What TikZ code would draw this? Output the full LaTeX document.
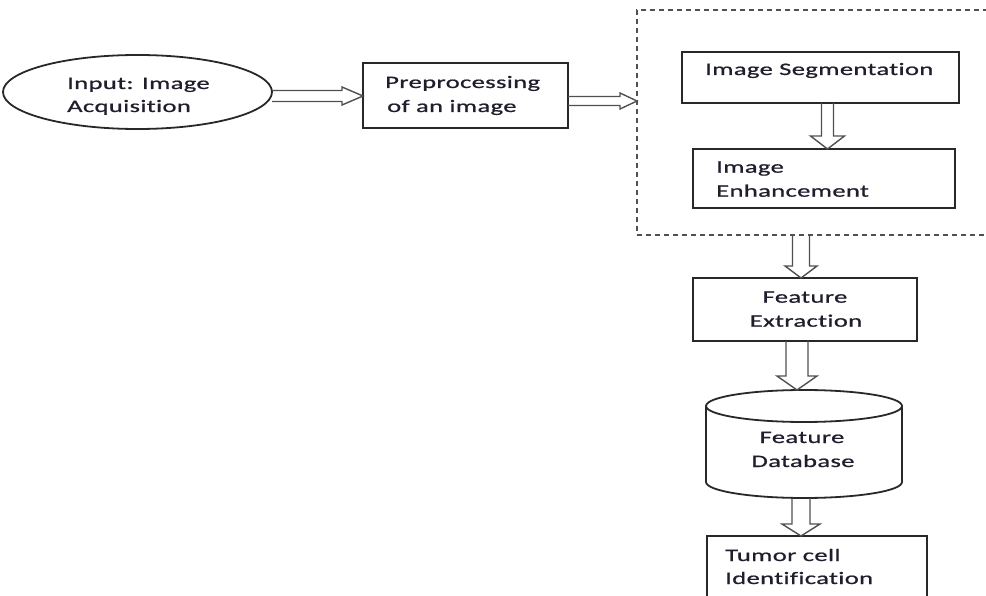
\documentclass[tikz,border=0pt]{standalone}
\usepackage{fontspec}
\setmainfont{Carlito}[FakeStretch=1.52, LetterSpace=2, FakeBold=0.8, Ligatures=NoCommon]
\usetikzlibrary{calc,shapes.geometric}
\definecolor{txt}{RGB}{30,30,45}
\definecolor{ln}{RGB}{40,40,40}
\definecolor{arrc}{RGB}{80,80,80}
\tikzset{
  box/.style={draw=ln, line width=1.8pt, rectangle, inner sep=0pt, outer sep=0pt, anchor=north west},
  lbl/.style={anchor=base west, inner sep=0pt, text=txt, font=\fontsize{17.5}{23.5}\selectfont},
  clbl/.style={lbl, anchor=base},
  arrowline/.style={draw=arrc, line width=1.4pt, line join=miter},
  dashbox/.style={draw=arrc, line width=2pt, dash pattern=on 5pt off 4pt, rectangle, inner sep=0pt, outer sep=0pt, anchor=north west}
}
\newcommand\hollowarr[5]{%
  \coordinate (hb) at ($(#2)!#5!(#1)$);
  \draw[arrowline] ($(#1)!#3!90:(#2)$) -- ($(hb)!#3!90:(#2)$) -- ($(hb)!#4!90:(#2)$) -- (#2)
     -- ($(hb)!#4!-90:(#2)$) -- ($(hb)!#3!-90:(#2)$) -- ($(#1)!#3!-90:(#2)$);}
\begin{document}
\begin{tikzpicture}[x=1pt,y=-1pt]
\useasboundingbox (0,0) rectangle (986,596);
% shapes
\node[draw=ln, line width=1.8pt, ellipse, inner sep=0pt, outer sep=0pt, minimum width=269pt, minimum height=74pt] (ell) at (137.5,92) {};
\node[box, minimum width=205pt, minimum height=65pt] (pre) at (363,63) {};
\node[dashbox, minimum width=360pt, minimum height=225pt] (dsh) at (637,10) {};
\node[box, minimum width=277pt, minimum height=51pt] (seg) at (682,52) {};
\node[box, minimum width=262pt, minimum height=59pt] (enh) at (693,149) {};
\node[box, minimum width=224pt, minimum height=63pt] (fex) at (693,278) {};
\node[rectangle, inner sep=0pt, outer sep=0pt, anchor=north west, minimum width=196pt, minimum height=108pt] (db) at (706,390) {};
\node[box, minimum width=220pt, minimum height=80pt] (tum) at (707,536) {};
% cylinder drawing
\draw[draw=ln, line width=1.8pt] (804,406) ellipse [x radius=98, y radius=16];
\draw[draw=ln, line width=1.8pt] (706,406) -- (706,482) arc [start angle=180, end angle=0, x radius=98, y radius=16] -- (902,406);
% labels
\node[lbl] (t1) at (67,89) {Input: Image};
\node[lbl] (t2) at (67,112) {Acquisition};
\node[lbl] (t3) at (385,88) {Preprocessing};
\node[lbl] (t4) at (387,112) {of an image};
\node[lbl] (t5) at (705,75) {Image Segmentation};
\node[lbl] (t6) at (716,172.7) {Image};
\node[lbl] (t7) at (716,196.7) {Enhancement};
\node[clbl] (t8) at (805,302.7) {Feature};
\node[clbl] (t9) at (806,326.7) {Extraction};
\node[clbl] (t10) at (802,443) {Feature};
\node[clbl] (t11) at (803,467) {Database};
\node[lbl] (t12) at (725,561) {Tumor cell};
\node[lbl] (t13) at (725,584) {Identification};
% connectors
\coordinate (a1s) at ($(ell.east)+(0,4)$);
\coordinate (a1e) at (pre.west |- a1s);
\hollowarr{a1s}{a1e}{5.5pt}{9pt}{21pt}
\coordinate (a2s) at ($(pre.east)+(0,5.5)$);
\coordinate (a2e) at (dsh.west |- a2s);
\hollowarr{a2s}{a2e}{4.5pt}{8pt}{17pt}
\coordinate (a3s) at ($(seg.south)+(7,0)$);
\coordinate (a3e) at (a3s |- enh.north);
\hollowarr{a3s}{a3e}{6pt}{17pt}{13pt}
\coordinate (a4e) at ($(fex.north)+(-4,0)$);
\coordinate (a4s) at (a4e |- dsh.south);
\hollowarr{a4s}{a4e}{8.5pt}{16pt}{12pt}
\coordinate (a5s) at ($(fex.south)+(-8,0)$);
\coordinate (a5e) at (a5s |- db.north);
\hollowarr{a5s}{a5e}{11pt}{20pt}{14pt}
\coordinate (a6s) at ($(db.south)+(-3,0)$);
\coordinate (a6e) at (a6s |- tum.north);
\hollowarr{a6s}{a6e}{9pt}{19pt}{12pt}
\end{tikzpicture}
\end{document}
